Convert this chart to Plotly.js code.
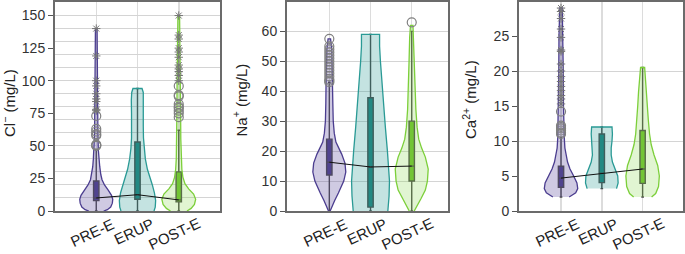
<!DOCTYPE html>
<html><head><meta charset="utf-8">
<script src="https://cdn.plot.ly/plotly-3.0.1.min.js"></script>
<style>html,body{margin:0;padding:0;background:#fff}#chart{width:685px;height:254px}</style>
</head><body><div id="chart"></div><script>
// ---------- data ----------
const groups = ['PRE-E', 'ERUP', 'POST-E'];
const yTitles = ['Cl<sup>\u2212</sup> (mg/L)', 'Na<sup>+</sup> (mg/L)', 'Ca<sup>2+</sup> (mg/L)'];

// Cl- violin profiles (level, half-width in category units)
const clPreY  = [0, 1, 3, 6, 9, 12, 16, 20, 24, 28, 34, 40, 47, 60, 80, 100, 120, 140];
const clPreW  = [0.18, 0.27, 0.35, 0.39, 0.40, 0.37, 0.29, 0.20, 0.14, 0.11, 0.085, 0.07, 0.05, 0.04, 0.035, 0.03, 0.03, 0.02];
const clErupY = [0, 3, 8, 14, 20, 26, 32, 40, 48, 56, 65, 75, 85, 91, 94];
const clErupW = [0.40, 0.43, 0.44, 0.41, 0.36, 0.30, 0.24, 0.19, 0.16, 0.145, 0.14, 0.145, 0.15, 0.14, 0.11];
const clPostY = [0, 2, 5, 9, 13, 17, 21, 26, 32, 40, 55, 75, 100, 125, 150];
const clPostW = [0.20, 0.30, 0.38, 0.41, 0.36, 0.24, 0.15, 0.10, 0.075, 0.06, 0.05, 0.045, 0.04, 0.035, 0.02];
// Cl- box stats [PRE-E, ERUP, POST-E]
const clQ1 = [8, 9, 7], clMed = [10, 12.5, 8.5], clQ3 = [23, 53, 30], clLo = [0, 0, 0], clHi = [47, 94, 62];
const clPreCirc = [50, 50.5, 51, 58, 59, 61, 63, 73];
const clPreStar = [77, 78, 84, 86, 90, 96, 100, 119, 140];
const clPostCirc = [72, 75, 77, 79, 80, 82, 88, 89, 96];
const clPostStar = [100, 104, 107, 109, 112, 118, 122, 125, 132, 135, 150];

// Na+ violin profiles
const naPreY  = [0, 1.5, 3.5, 6, 8, 10, 13, 16, 19, 21, 23, 26, 30, 36, 42, 48, 54, 57.5];
const naPreW  = [0.02, 0.06, 0.13, 0.22, 0.29, 0.35, 0.40, 0.38, 0.30, 0.23, 0.16, 0.12, 0.095, 0.085, 0.08, 0.075, 0.06, 0.03];
const naErupY = [0, 5, 10, 15, 20, 28, 36, 44, 50, 55, 59];
const naErupW = [0.42, 0.45, 0.46, 0.44, 0.41, 0.36, 0.31, 0.27, 0.24, 0.22, 0.22];
const naPostY = [0, 2, 4, 7, 10, 14, 18, 21, 24, 28, 34, 42, 50, 58, 62];
const naPostW = [0.06, 0.13, 0.22, 0.33, 0.38, 0.40, 0.33, 0.24, 0.17, 0.13, 0.10, 0.08, 0.065, 0.05, 0.03];
const naQ1 = [12, 1.3, 10], naMed = [16.3, 14.7, 15], naQ3 = [24, 37.8, 30], naLo = [0, 0, 0], naHi = [43, 59, 60];
const naPreCirc = [43, 43.5, 44, 45, 46, 47, 48, 49, 50, 51, 52, 53, 54, 55, 57.5];
const naPostCirc = [63];

// Ca2+ violin profiles
const caPreY  = [2, 2.6, 3.2, 4, 5, 6, 7, 8, 9, 10.5, 12, 15, 20, 25, 29];
const caPreW  = [0.20, 0.36, 0.41, 0.39, 0.31, 0.22, 0.16, 0.12, 0.095, 0.08, 0.07, 0.06, 0.055, 0.05, 0.03];
const caErupY = [3.2, 4, 5, 6, 7, 8, 9, 10, 11, 12];
const caErupW = [0.36, 0.40, 0.39, 0.32, 0.26, 0.23, 0.23, 0.25, 0.26, 0.25];
const caPostY = [2, 2.5, 3.5, 5, 6.5, 8, 9.5, 11, 13, 15, 17, 19, 20.5];
const caPostW = [0.22, 0.32, 0.39, 0.41, 0.37, 0.28, 0.21, 0.17, 0.14, 0.12, 0.10, 0.075, 0.05];
const caQ1 = [3.4, 4.05, 3.95], caMed = [4.7, 5.4, 6.0], caQ3 = [6.4, 11, 11.5], caLo = [2, 3.2, 2], caHi = [10.5, 12, 20.5];
const caPreCirc = [11, 11.2, 11.5, 11.8, 12, 12.2, 14.2];
const caPreStar = [15.3, 16, 16.5, 17.2, 17.8, 18.5, 19.2, 20, 21, 22.8, 23, 24.8, 26, 27.5, 28.5, 29];

// ---------- styling ----------
const edge = ['#4b3d8f', '#2a9a95', '#7ccf3a'];
const fillc = ['rgba(95,80,160,0.30)', 'rgba(42,154,149,0.28)', 'rgba(140,215,80,0.26)'];
const boxFill = ['#4a3e88', '#1f837d', '#6abf2c'];
const FONT = 'Liberation Sans, Arial, sans-serif';

const panels = [
  {prof: [[clPreY, clPreW], [clErupY, clErupW], [clPostY, clPostW]], q1: clQ1, med: clMed, q3: clQ3, lo: clLo, hi: clHi,
   circ: [clPreCirc, [], clPostCirc], star: [clPreStar, [], clPostStar],
   yr: [0, 160.4], dt: 25, xr: [-1, 3], dom: [55/685, 220/685]},
  {prof: [[naPreY, naPreW], [naErupY, naErupW], [naPostY, naPostW]], q1: naQ1, med: naMed, q3: naQ3, lo: naLo, hi: naHi,
   circ: [naPreCirc, [], naPostCirc], star: [[], [], []],
   yr: [0, 69.8], dt: 10, xr: [-1.027, 2.88], dom: [287/685, 448/685]},
  {prof: [[caPreY, caPreW], [caErupY, caErupW], [caPostY, caPostW]], q1: caQ1, med: caMed, q3: caQ3, lo: caLo, hi: caHi,
   circ: [caPreCirc, [], []], star: [caPreStar, [], []],
   yr: [0, 29.86], dt: 5, xr: [-1.03, 2.99], dom: [519/685, 683/685]}
];
const yDom = [1 - 211/254, 1 - 2/254];
const titleX = [9, 240, 470], titleY = [103, 100.5, 100];

const traces = [];
const layout = {
  width: 685, height: 254, margin: {l: 0, r: 0, t: 0, b: 0},
  paper_bgcolor: '#fff', plot_bgcolor: '#fff', showlegend: false,
  font: {family: FONT, size: 14, color: '#333'},
  annotations: []
};

panels.forEach((p, k) => {
  const n = k + 1;
  const xa = 'x' + (n === 1 ? '' : n), ya = 'y' + (n === 1 ? '' : n);
  const gy = 'y' + (n + 3);
  // grid overlay axis dummy
  traces.push({type: 'scatter', mode: 'lines', x: [0], y: [0], opacity: 0, xaxis: xa, yaxis: gy, hoverinfo: 'skip'});
  groups.forEach((g, i) => {
    const [ys, ws] = p.prof[i];
    const xs = ys.map((y, j) => i + ws[j]).concat(ys.slice().reverse().map((y, j) => i - ws[ws.length - 1 - j]));
    const yy = ys.concat(ys.slice().reverse());
    traces.push({type: 'scatter', mode: 'lines', x: xs, y: yy, fill: 'toself', fillcolor: fillc[i],
      line: {color: edge[i], width: 1.3}, xaxis: xa, yaxis: ya, hoverinfo: 'skip'});
  });
  groups.forEach((g, i) => {
    traces.push({type: 'box', x: [i], q1: [p.q1[i]], median: [p.med[i]], q3: [p.q3[i]],
      lowerfence: [p.lo[i]], upperfence: [p.hi[i]], width: 0.13, fillcolor: boxFill[i],
      line: {color: '#474747', width: 1.4}, boxpoints: false, xaxis: xa, yaxis: ya, hoverinfo: 'skip'});
  });
  groups.forEach((g, i) => {
    if (p.circ[i].length) traces.push({type: 'scatter', mode: 'markers', x: p.circ[i].map(() => i), y: p.circ[i],
      marker: {symbol: 'circle-open', size: 9, color: '#808080', line: {width: 1.2}}, xaxis: xa, yaxis: ya, hoverinfo: 'skip'});
    if (p.star[i].length) traces.push({type: 'scatter', mode: 'markers', x: p.star[i].map(() => i), y: p.star[i],
      marker: {symbol: 'asterisk-open', size: 7, color: '#757575', line: {width: 1}}, xaxis: xa, yaxis: ya, hoverinfo: 'skip'});
  });
  traces.push({type: 'scatter', mode: 'lines', x: [0, 1, 2], y: p.med, line: {color: '#111', width: 1},
    xaxis: xa, yaxis: ya, hoverinfo: 'skip'});

  layout['xaxis' + (n === 1 ? '' : n)] = {domain: p.dom, anchor: ya, range: p.xr, tickvals: [0, 1, 2],
    showticklabels: false, ticks: '', showgrid: true, gridcolor: '#dcdcdc', gridwidth: 1.5, zeroline: false,
    showline: true, mirror: true, linecolor: '#6b6b6b', linewidth: 2, fixedrange: true};
  layout['yaxis' + (n === 1 ? '' : n)] = {domain: yDom, anchor: xa, range: p.yr, dtick: p.dt, tick0: 0,
    ticks: 'outside', ticklen: 5, tickcolor: '#555', tickwidth: 1, showgrid: false, zeroline: false,
    showline: true, mirror: true, linecolor: '#6b6b6b', linewidth: 2,
    tickfont: {family: FONT, size: 14, color: '#333'}, fixedrange: true};
  layout['yaxis' + (n + 3)] = {overlaying: ya, anchor: xa, range: p.yr, dtick: 10, tick0: 0,
    showgrid: true, gridcolor: '#d4d4d4', gridwidth: 1, showticklabels: false, ticks: '', zeroline: false,
    showline: false, fixedrange: true};

  groups.forEach((g, i) => {
    layout.annotations.push({text: g, xref: xa, x: i, xshift: -4, yref: 'paper', y: yDom[0], yshift: -1,
      xanchor: 'center', yanchor: 'top', textangle: -25, showarrow: false,
      font: {family: FONT, size: 15, color: '#222'}});
  });
  layout.annotations.push({text: yTitles[k], xref: 'paper', x: titleX[k] / 685, yref: 'paper', y: 1 - titleY[k] / 254,
    xanchor: 'center', yanchor: 'middle', textangle: -90, showarrow: false,
    font: {family: FONT, size: 15, color: '#222'}});
});

Plotly.newPlot('chart', traces, layout, {displayModeBar: false, staticPlot: true});
</script></body></html>
